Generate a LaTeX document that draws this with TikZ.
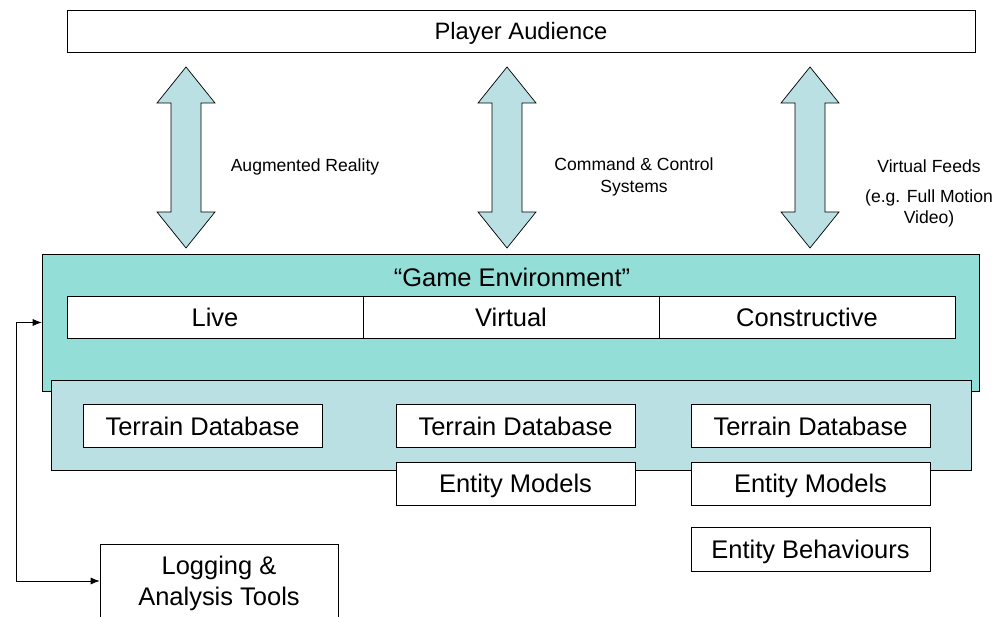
\documentclass[tikz,border=0pt]{standalone}
\usepackage{fontspec}
\setmainfont{Liberation Sans}
\usetikzlibrary{arrows.meta}
\definecolor{envteal}{HTML}{93DFD8}
\definecolor{dbblue}{HTML}{BAE0E3}
\tikzset{
  cell/.style={draw, fill=white, inner sep=0pt, text depth=0pt, font=\fontsize{14.5}{17.5}\selectfont},
  dbbox/.style={cell, minimum width=4.78cm, minimum height=0.86cm},
  note/.style={align=center, font=\fontsize{10}{12}\selectfont}
}
\begin{document}
\begin{tikzpicture}[x=0.02cm, y=-0.02cm]
\clip (0,0) rectangle (1003,617);
% audience on top
\node[cell, minimum width=18.16cm, minimum height=0.84cm, font=\fontsize{13.5}{16}\selectfont] (aud) at (521,31) {Player Audience};
% block arrows
\foreach \x in {186,507,810}
  \draw[fill=dbblue] (\x,67) -- (\x+29,103) -- (\x+15,103) -- (\x+15,212) -- (\x+29,212) -- (\x,248)
    -- (\x-29,212) -- (\x-15,212) -- (\x-15,103) -- (\x-29,103) -- cycle;
\node[note] (ar) at (305,167) {Augmented Reality};
\node[note] (cc) at (634,177) {Command \& Control\\Systems};
\node[note] (vf) at (929,166) {Virtual Feeds};
\node[note] (fmv) at (929,208) {(e.g. Full Motion\\Video)};
% game environment
\node[draw, fill=envteal, minimum width=18.74cm, minimum height=2.74cm] (env) at (510.5,322.5) {};
\node[font=\fontsize{14.5}{17.5}\selectfont] (envtitle) at (512,277) {``Game Environment''};
\node[cell, minimum width=5.92cm, minimum height=0.84cm] (live) at (215,317) {Live};
\node[cell, minimum width=5.92cm, minimum height=0.84cm] (virt) at (511,317) {Virtual};
\node[cell, minimum width=5.92cm, minimum height=0.84cm] (cons) at (807,317) {Constructive};
% databases
\draw[fill=dbblue] (51,380) rectangle (971,470);
\node[dbbox] (tdl) at (202.5,426) {Terrain Database};
\node[dbbox] (tdv) at (515.5,426) {Terrain Database};
\node[dbbox] (tdc) at (810.5,426) {Terrain Database};
\node[dbbox] (emv) at (515.5,483.5) {Entity Models};
\node[dbbox] (emc) at (810.5,483.5) {Entity Models};
\node[dbbox, minimum height=0.88cm] (ebc) at (810.5,549) {Entity Behaviours};
% logging
\node[cell, align=center, minimum width=4.76cm, minimum height=1.48cm] (log) at (219,581) {Logging \&\\Analysis Tools};
\coordinate (bend) at (16,0);
\draw[{Latex[length=1.8mm,width=1.4mm]}-{Latex[length=1.8mm,width=1.4mm]}] (env.west) -- (env.west -| bend) |- (log.west);
\end{tikzpicture}
\end{document}
